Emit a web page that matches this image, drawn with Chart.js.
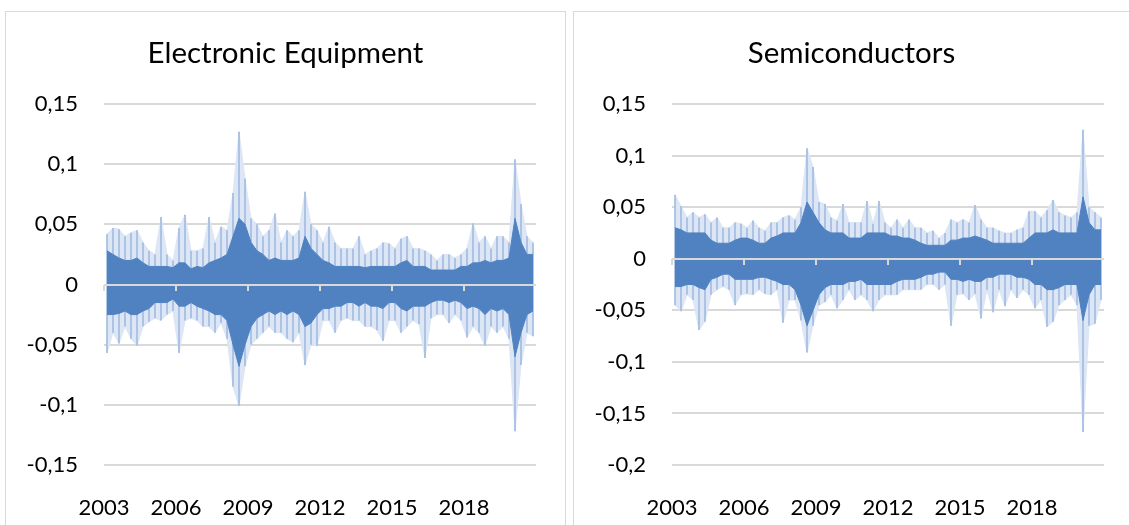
<!DOCTYPE html>
<html>
<head>
<meta charset="utf-8">
<script src="https://cdn.jsdelivr.net/npm/chart.js@4.4.1/dist/chart.umd.min.js"></script>
<style>
  body { margin: 0; background: #fff; width: 1129px; height: 525px; overflow: hidden; position: relative; }
  .moldura { position: absolute; border: 1px solid #d9d9d9; border-bottom: none; }
  canvas { position: absolute; }
</style>
</head>
<body>
<div class="moldura" style="left:5px; top:11px; width:559px; height:520px;"></div>
<div class="moldura" style="left:573px; top:11px; width:560px; height:520px;"></div>
<canvas id="grafico_ee" width="559" height="513" style="left:6px; top:12px;"></canvas>
<canvas id="grafico_sc" width="555" height="513" style="left:574px; top:12px;"></canvas>
<script>
/* ===== DADOS ===== */
// retornos diarios agrupados por trimestre (2003 T1 .. 2020 T4)
// core = faixa densa, hi/lo = picos extremos do trimestre
const ANOS_TICKS = [2003, 2006, 2009, 2012, 2015, 2018];

const ee_hi = [
  0.042, 0.047, 0.046, 0.040, 0.043, 0.045, 0.035, 0.028, 0.025, 0.056,
  0.025, 0.020, 0.047, 0.058, 0.028, 0.028, 0.030, 0.056, 0.035, 0.048,
  0.045, 0.076, 0.127, 0.088, 0.055, 0.050, 0.040, 0.045, 0.059, 0.035,
  0.045, 0.040, 0.045, 0.077, 0.050, 0.045, 0.035, 0.048, 0.035, 0.030,
  0.030, 0.030, 0.040, 0.025, 0.028, 0.030, 0.035, 0.034, 0.030, 0.038,
  0.040, 0.030, 0.030, 0.028, 0.025, 0.020, 0.025, 0.025, 0.022, 0.025,
  0.030, 0.051, 0.035, 0.040, 0.030, 0.040, 0.040, 0.035, 0.104, 0.067,
  0.040, 0.035
];
const ee_lo = [
  -0.057, -0.040, -0.049, -0.035, -0.045, -0.051, -0.035, -0.031, -0.028, -0.030,
  -0.025, -0.022, -0.057, -0.030, -0.028, -0.030, -0.035, -0.035, -0.040, -0.032,
  -0.045, -0.085, -0.101, -0.068, -0.050, -0.045, -0.040, -0.035, -0.040, -0.040,
  -0.045, -0.048, -0.040, -0.067, -0.050, -0.051, -0.030, -0.030, -0.040, -0.030,
  -0.028, -0.030, -0.030, -0.035, -0.035, -0.038, -0.047, -0.030, -0.030, -0.040,
  -0.035, -0.030, -0.033, -0.061, -0.028, -0.025, -0.025, -0.032, -0.025, -0.030,
  -0.044, -0.035, -0.040, -0.051, -0.035, -0.040, -0.035, -0.045, -0.122, -0.067,
  -0.040, -0.043
];
const ee_core_hi = [
  0.028, 0.025, 0.022, 0.020, 0.020, 0.022, 0.018, 0.015, 0.015, 0.015,
  0.015, 0.014, 0.018, 0.018, 0.013, 0.015, 0.014, 0.018, 0.020, 0.022,
  0.025, 0.040, 0.055, 0.050, 0.035, 0.028, 0.025, 0.020, 0.022, 0.020,
  0.020, 0.020, 0.022, 0.040, 0.030, 0.025, 0.020, 0.018, 0.015, 0.015,
  0.015, 0.015, 0.015, 0.014, 0.015, 0.015, 0.015, 0.015, 0.015, 0.018,
  0.020, 0.015, 0.015, 0.015, 0.012, 0.012, 0.012, 0.012, 0.012, 0.015,
  0.015, 0.018, 0.018, 0.020, 0.018, 0.020, 0.020, 0.022, 0.055, 0.035,
  0.025, 0.025
];
const ee_core_lo = [
  -0.025, -0.025, -0.024, -0.022, -0.025, -0.025, -0.022, -0.020, -0.015, -0.015,
  -0.015, -0.012, -0.018, -0.018, -0.015, -0.018, -0.020, -0.022, -0.025, -0.025,
  -0.030, -0.050, -0.068, -0.050, -0.035, -0.028, -0.025, -0.022, -0.025, -0.022,
  -0.025, -0.022, -0.025, -0.035, -0.032, -0.025, -0.020, -0.020, -0.018, -0.018,
  -0.015, -0.015, -0.018, -0.015, -0.018, -0.018, -0.020, -0.015, -0.015, -0.020,
  -0.022, -0.018, -0.018, -0.018, -0.015, -0.013, -0.013, -0.015, -0.013, -0.015,
  -0.020, -0.018, -0.020, -0.025, -0.020, -0.022, -0.020, -0.025, -0.060, -0.040,
  -0.025, -0.022
];

const sc_hi = [
  0.062, 0.051, 0.040, 0.045, 0.040, 0.043, 0.035, 0.040, 0.030, 0.030,
  0.035, 0.034, 0.030, 0.037, 0.030, 0.027, 0.035, 0.035, 0.040, 0.042,
  0.038, 0.050, 0.107, 0.089, 0.055, 0.053, 0.040, 0.037, 0.053, 0.035,
  0.035, 0.035, 0.056, 0.034, 0.056, 0.035, 0.030, 0.038, 0.030, 0.038,
  0.030, 0.030, 0.025, 0.027, 0.020, 0.025, 0.038, 0.035, 0.038, 0.035,
  0.052, 0.038, 0.030, 0.030, 0.027, 0.025, 0.025, 0.028, 0.030, 0.046,
  0.046, 0.040, 0.047, 0.057, 0.045, 0.042, 0.040, 0.045, 0.125, 0.050,
  0.045, 0.040
];
const sc_lo = [
  -0.045, -0.051, -0.035, -0.040, -0.069, -0.061, -0.035, -0.030, -0.027, -0.030,
  -0.045, -0.035, -0.034, -0.035, -0.030, -0.034, -0.035, -0.030, -0.062, -0.040,
  -0.040, -0.060, -0.091, -0.065, -0.045, -0.042, -0.035, -0.048, -0.040, -0.030,
  -0.040, -0.035, -0.040, -0.051, -0.040, -0.035, -0.035, -0.035, -0.030, -0.030,
  -0.030, -0.030, -0.025, -0.025, -0.030, -0.025, -0.065, -0.035, -0.034, -0.040,
  -0.034, -0.058, -0.030, -0.052, -0.030, -0.046, -0.030, -0.038, -0.030, -0.035,
  -0.048, -0.040, -0.066, -0.061, -0.045, -0.040, -0.035, -0.045, -0.168, -0.065,
  -0.063, -0.040
];
const sc_core_hi = [
  0.030, 0.028, 0.025, 0.025, 0.025, 0.025, 0.018, 0.015, 0.015, 0.015,
  0.018, 0.020, 0.020, 0.018, 0.015, 0.015, 0.020, 0.022, 0.025, 0.025,
  0.025, 0.035, 0.055, 0.045, 0.035, 0.028, 0.025, 0.025, 0.025, 0.020,
  0.020, 0.020, 0.025, 0.025, 0.025, 0.025, 0.022, 0.022, 0.020, 0.020,
  0.018, 0.015, 0.013, 0.013, 0.013, 0.013, 0.018, 0.018, 0.020, 0.020,
  0.022, 0.020, 0.018, 0.015, 0.015, 0.015, 0.015, 0.015, 0.015, 0.020,
  0.025, 0.025, 0.025, 0.028, 0.025, 0.025, 0.025, 0.025, 0.060, 0.035,
  0.028, 0.028
];
const sc_core_lo = [
  -0.027, -0.027, -0.025, -0.025, -0.028, -0.030, -0.020, -0.018, -0.015, -0.015,
  -0.020, -0.020, -0.020, -0.020, -0.018, -0.018, -0.020, -0.022, -0.025, -0.025,
  -0.030, -0.045, -0.065, -0.050, -0.035, -0.028, -0.025, -0.025, -0.025, -0.022,
  -0.022, -0.020, -0.025, -0.025, -0.025, -0.025, -0.025, -0.022, -0.020, -0.020,
  -0.020, -0.018, -0.015, -0.015, -0.013, -0.013, -0.020, -0.020, -0.022, -0.020,
  -0.022, -0.022, -0.018, -0.018, -0.015, -0.015, -0.015, -0.018, -0.018, -0.020,
  -0.025, -0.025, -0.030, -0.030, -0.028, -0.025, -0.025, -0.025, -0.060, -0.035,
  -0.025, -0.025
];

// centro de cada trimestre
const trimestres = [];
for (let i = 0; i < ee_hi.length; i++) { trimestres.push(2003.125 + i * 0.25); }

/* ===== ESTILO ===== */
const FONTE = "Lato, 'Open Sans', sans-serif";
const AZUL = '#5082c2';
const AZUL_PICO = '#a3bde2';
const AZUL_HALO = '#dce6f4';
const CINZA = '#d9d9d9';

function formata_virgula(v) {
  return String(Math.round(v * 100) / 100).replace('.', ',');
}

// linha do eixo horizontal (por cima das barras, como no excel)
const linha_zero = {
  id: 'linha_zero',
  afterDatasetsDraw(chart) {
    const { ctx, chartArea, scales } = chart;
    const y = Math.round(scales.y.getPixelForValue(0));
    ctx.save();
    ctx.fillStyle = CINZA;
    ctx.fillRect(chartArea.left, y - 1, chartArea.right - chartArea.left, 2);
    for (const ano of ANOS_TICKS) {
      const x = Math.round(scales.x.getPixelForValue(ano));
      ctx.fillRect(x - 1, y, 2, 6);
    }
    ctx.restore();
  }
};

function faixa(dados, cor, preenche) {
  return {
    type: 'line',
    data: dados,
    borderColor: cor,
    borderWidth: 1,
    backgroundColor: cor,
    pointRadius: 0,
    tension: 0,
    fill: preenche
  };
}

/* ===== GRAFICOS ===== */
function monta_config(titulo, core_hi, core_lo, hi, lo, y_min, margem_dir) {
  return {
    type: 'bar',
    data: {
      labels: trimestres,
      datasets: [
        faixa(core_hi, AZUL, '+1'),
        faixa(core_lo, AZUL, false),
        {
          label: 'picos',
          data: lo.map((v, i) => [v, hi[i]]),
          backgroundColor: AZUL_PICO,
          grouped: false,
          categoryPercentage: 1,
          barPercentage: 0.28
        },
        faixa(hi, AZUL_HALO, '+1'),
        faixa(lo, AZUL_HALO, false)
      ]
    },
    options: {
      responsive: false,
      animation: false,
      plugins: {
        legend: { display: false },
        tooltip: { enabled: false },
        title: {
          display: true,
          text: titulo,
          color: '#000',
          font: { family: FONTE, size: 29.5, weight: 'normal', lineHeight: 1.2 },
          padding: { top: 24, bottom: 32.6 }
        }
      },
      scales: {
        x: {
          type: 'linear',
          min: 2003,
          max: 2021,
          offset: false,
          grid: { display: false, offset: false },
          border: { display: false },
          afterBuildTicks: (scale) => { scale.ticks = ANOS_TICKS.map(v => ({ value: v })); },
          afterFit: (scale) => { scale.height = 60; },
          ticks: {
            autoSkip: false,
            maxRotation: 0,
            padding: 21.3,
            color: '#000',
            font: { family: FONTE, size: 22 },
            callback: (v) => String(v)
          }
        },
        y: {
          min: y_min,
          max: 0.15,
          grid: { color: CINZA, lineWidth: 2, drawTicks: false },
          border: { display: false },
          afterFit: (scale) => { scale.width = 98; },
          ticks: {
            stepSize: 0.05,
            padding: 26,
            color: '#000',
            font: { family: FONTE, size: 22 },
            callback: formata_virgula
          }
        },
        // eixo vazio so para a margem da direita (titulo fica centrado no quadro)
        margem: {
          type: 'linear',
          axis: 'y',
          position: 'right',
          grid: { display: false },
          border: { display: false },
          ticks: { display: false },
          afterFit: (scale) => { scale.width = margem_dir; }
        }
      }
    },
    plugins: [linha_zero]
  };
}

const grafico_ee = new Chart(document.getElementById('grafico_ee'),
  monta_config('Electronic Equipment', ee_core_hi, ee_core_lo, ee_hi, ee_lo, -0.15, 29));
const grafico_sc = new Chart(document.getElementById('grafico_sc'),
  monta_config('Semiconductors', sc_core_hi, sc_core_lo, sc_hi, sc_lo, -0.2, 25));
</script>
</body>
</html>
